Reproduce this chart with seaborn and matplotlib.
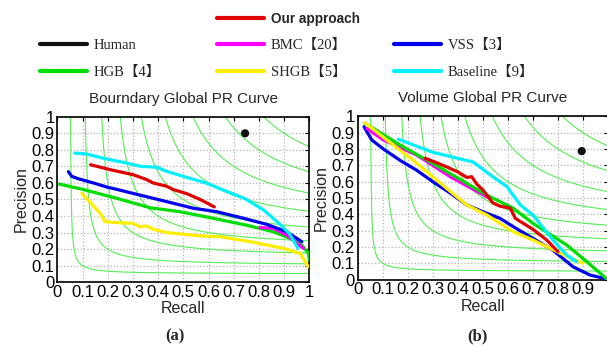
import numpy as np
import matplotlib
matplotlib.use("Agg")
import matplotlib.pyplot as plt
from matplotlib.lines import Line2D
import seaborn as sns

# ---------------- data ----------------
f_levels = [0.1, 0.2, 0.3, 0.4, 0.5, 0.6, 0.7, 0.8, 0.9]
tick_vals = [0, 0.1, 0.2, 0.3, 0.4, 0.5, 0.6, 0.7, 0.8, 0.9, 1.0]
tick_labels = ["0", "0.1", "0.2", "0.3", "0.4", "0.5", "0.6", "0.7", "0.8", "0.9", "1"]
# the "1" of the right panel's recall axis falls outside the picture
tick_labels_b = ["0", "0.1", "0.2", "0.3", "0.4", "0.5", "0.6", "0.7", "0.8", "0.9", ""]

# Boundary plot (a)
b_human_r = [0.745]
b_human_p = [0.90]
b_ours_r = [0.132, 0.21, 0.30, 0.355, 0.38, 0.434, 0.46, 0.514, 0.567, 0.623]
b_ours_p = [0.71, 0.68, 0.65, 0.62, 0.60, 0.58, 0.56, 0.535, 0.50, 0.455]
b_bmc_r = [0.804, 0.857, 0.91, 0.976]
b_bmc_p = [0.33, 0.326, 0.285, 0.205]
b_vss_r = [0.044, 0.057, 0.084, 0.143, 0.196, 0.22, 0.30, 0.434, 0.54, 0.633, 0.74, 0.83, 0.91, 0.97]
b_vss_p = [0.668, 0.64, 0.625, 0.60, 0.575, 0.567, 0.537, 0.487, 0.447, 0.426, 0.386, 0.35, 0.305, 0.245]
b_hgb_r = [0.008, 0.104, 0.236, 0.368, 0.487, 0.62, 0.75, 0.857, 0.924, 0.97, 0.996, 1.0]
b_hgb_p = [0.593, 0.56, 0.507, 0.45, 0.426, 0.386, 0.345, 0.305, 0.265, 0.225, 0.175, 0.134]
b_shgb_r = [0.097, 0.136, 0.17, 0.19, 0.236, 0.30, 0.328, 0.355, 0.38, 0.434, 0.566, 0.646, 0.765, 0.897, 0.963, 0.996]
b_shgb_p = [0.537, 0.473, 0.416, 0.366, 0.36, 0.356, 0.335, 0.34, 0.32, 0.30, 0.28, 0.275, 0.245, 0.205, 0.175, 0.094]
b_base_r = [0.07, 0.117, 0.18, 0.275, 0.33, 0.395, 0.434, 0.51, 0.59, 0.67, 0.745, 0.82, 0.88, 0.92, 0.955]
b_base_p = [0.78, 0.775, 0.75, 0.72, 0.70, 0.695, 0.67, 0.635, 0.60, 0.55, 0.505, 0.435, 0.355, 0.295, 0.205]

# Volume plot (b)
v_human_r = [0.895]
v_human_p = [0.787]
v_ours_r = [0.27, 0.316, 0.356, 0.40, 0.436, 0.456, 0.476, 0.50, 0.54, 0.569, 0.61, 0.63, 0.70, 0.755, 0.80]
v_ours_p = [0.743, 0.716, 0.69, 0.66, 0.626, 0.63, 0.585, 0.55, 0.47, 0.45, 0.437, 0.375, 0.308, 0.243, 0.171]
v_bmc_r = [0.037, 0.103, 0.236, 0.37, 0.525]
v_bmc_p = [0.926, 0.855, 0.763, 0.63, 0.50]
v_vss_r = [0.026, 0.057, 0.103, 0.17, 0.236, 0.30, 0.37, 0.436, 0.516, 0.569, 0.622, 0.70, 0.78, 0.86, 0.928, 0.995]
v_vss_p = [0.936, 0.855, 0.80, 0.73, 0.67, 0.60, 0.53, 0.457, 0.406, 0.375, 0.324, 0.253, 0.18, 0.079, 0.028, 0.004]
v_hgb_r = [0.03, 0.17, 0.30, 0.436, 0.516, 0.622, 0.70, 0.835, 0.915, 0.995]
v_hgb_p = [0.957, 0.824, 0.712, 0.59, 0.518, 0.437, 0.345, 0.212, 0.11, 0.004]
v_shgb_r = [0.03, 0.117, 0.223, 0.30, 0.38, 0.436, 0.516, 0.622, 0.70, 0.81, 0.90]
v_shgb_p = [0.96, 0.855, 0.73, 0.63, 0.528, 0.457, 0.396, 0.293, 0.243, 0.161, 0.10]
v_base_r = [0.163, 0.30, 0.462, 0.54, 0.596, 0.65, 0.70, 0.78, 0.835, 0.875]
v_base_p = [0.86, 0.78, 0.72, 0.63, 0.57, 0.457, 0.396, 0.243, 0.15, 0.11]

names = ["Human", "Our approach", "BMC【20】", "VSS【3】", "HGB【4】", "SHGB【5】", "Baseline【9】"]
colors = {"Human": "#111111", "Our approach": "#e00000", "BMC【20】": "#ff00ff",
          "VSS【3】": "#0000ee", "HGB【4】": "#00dd00", "SHGB【5】": "#ffee00",
          "Baseline【9】": "#00f0ff"}

# ---------------- style ----------------
sns.set_style("white")
plt.rcParams["font.family"] = ["Liberation Sans", "DejaVu Sans"]

fig = plt.figure(figsize=(6.07, 3.47), dpi=100)
ax1 = fig.add_axes([0.0944, 0.1867, 0.4152, 0.4769])
ax2 = fig.add_axes([0.589, 0.1942, 0.4127, 0.4706])

rr, pp = np.meshgrid(np.linspace(0.0005, 1, 500), np.linspace(0.0005, 1, 500))
ff = 2 * rr * pp / (rr + pp)

def setup(ax, title, xlabels):
    ax.contour(rr, pp, ff, levels=f_levels, colors="#55ee55", linewidths=0.8, zorder=1)
    ax.set_xlim(0, 1)
    ax.set_ylim(0, 1)
    ax.set_xticks(tick_vals)
    ax.set_xticklabels(xlabels)
    ax.set_yticks(tick_vals)
    ax.set_yticklabels(tick_labels)
    ax.grid(True, linestyle=":", color="#b5b5b5", linewidth=0.9)
    ax.tick_params(direction="in", length=3, width=0.8, labelsize=12, pad=2,
                   top=True, right=True, colors="black")
    for s in ax.spines.values():
        s.set_color("black")
        s.set_linewidth(1.2)
    ax.set_title(title, fontsize=11, pad=10)
    ax.set_xlabel("Recall", fontsize=11.5, labelpad=1)
    ax.set_ylabel("Precision", fontsize=11.5, labelpad=2)

setup(ax1, "Bourndary Global PR Curve", tick_labels)
setup(ax2, "Volume Global PR Curve", tick_labels_b)

def draw(ax, series):
    for nm, r, p in series:
        sns.lineplot(x=r, y=p, ax=ax, color=colors[nm], linewidth=2.3, sort=False,
                     estimator=None, zorder=3)

draw(ax1, [("HGB【4】", b_hgb_r, b_hgb_p), ("SHGB【5】", b_shgb_r, b_shgb_p),
           ("BMC【20】", b_bmc_r, b_bmc_p), ("VSS【3】", b_vss_r, b_vss_p),
           ("Baseline【9】", b_base_r, b_base_p), ("Our approach", b_ours_r, b_ours_p)])
draw(ax2, [("VSS【3】", v_vss_r, v_vss_p), ("BMC【20】", v_bmc_r, v_bmc_p),
           ("HGB【4】", v_hgb_r, v_hgb_p), ("SHGB【5】", v_shgb_r, v_shgb_p),
           ("Baseline【9】", v_base_r, v_base_p), ("Our approach", v_ours_r, v_ours_p)])

sns.scatterplot(x=b_human_r, y=b_human_p, ax=ax1, color=colors["Human"], s=35, zorder=4, edgecolor="none")
sns.scatterplot(x=v_human_r, y=v_human_p, ax=ax2, color=colors["Human"], s=35, zorder=4, edgecolor="none")

# ---------------- legend ----------------
W, H = 607.0, 347.0
serif = {"family": ["Liberation Serif", "Noto Sans CJK SC"], "size": 10.5}
bold_sans = {"family": "Liberation Sans", "weight": "bold", "size": 9.8}

def col_legend(entries, x_px, y_px, prop, spacing=0.95):
    fs_px = prop["size"] * 100 / 72
    handles = [Line2D([], [], color=colors[n], linewidth=3) for n in entries]
    leg = fig.legend(handles, entries, loc="upper left",
                     bbox_to_anchor=(x_px / W, 1 - y_px / H), frameon=False,
                     borderpad=0, borderaxespad=0, handlelength=47 / fs_px,
                     handletextpad=7 / fs_px, labelspacing=spacing, prop=prop)
    return leg

col_legend(["Our approach"], 217, 12, bold_sans)
col_legend(["Human", "HGB【4】"], 40, 39, serif)
col_legend(["BMC【20】", "SHGB【5】"], 217, 39, serif)
col_legend(["VSS【3】", "Baseline【9】"], 394, 39, serif)

fig.text(175 / W, 1 - 336 / H, "(a)", ha="center", va="center",
         fontsize=12, fontweight="bold", family="Liberation Serif")
fig.text(477 / W, 1 - 336 / H, "(b)", ha="center", va="center",
         fontsize=12, fontweight="bold", family="Liberation Serif")

fig.savefig("out.png", dpi=100)
